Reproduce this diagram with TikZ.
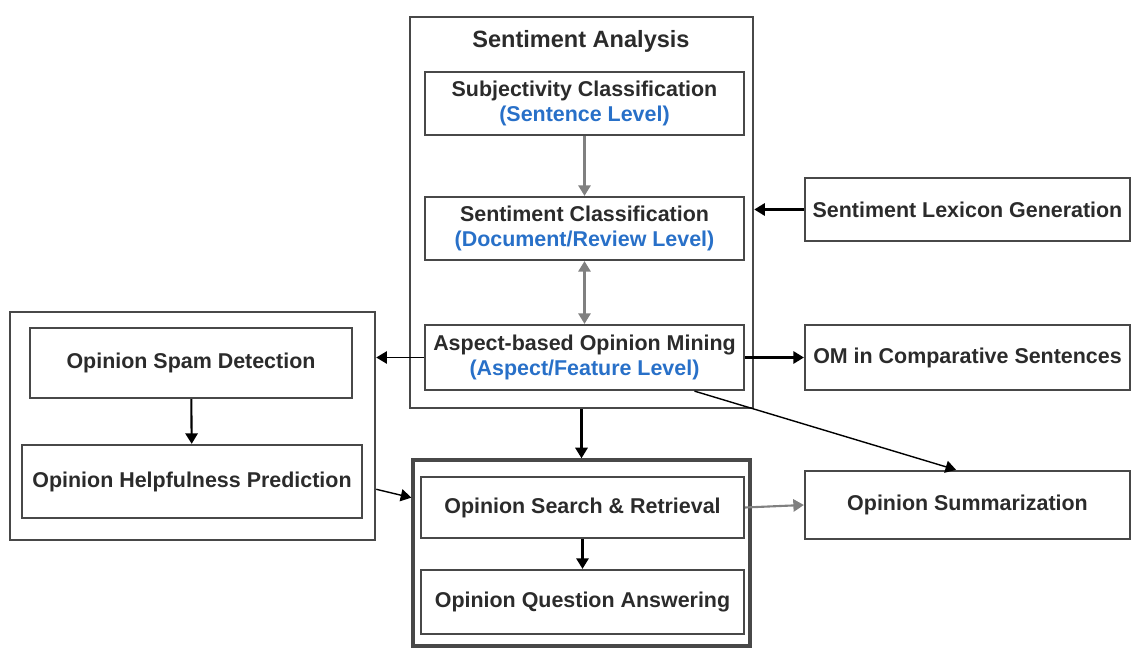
\documentclass[tikz,border=0pt]{standalone}
\usepackage{fontspec}
\setmainfont{Liberation Sans}
\usepackage{xcolor}
\usetikzlibrary{arrows.meta}

\definecolor{boxline}{RGB}{72,72,72}
\definecolor{levelblue}{RGB}{40,112,200}

\tikzset{
  taskbox/.style={draw=boxline, line width=1.3pt, align=center, inner sep=0pt,
    font=\fontsize{12.2}{14.6}\selectfont\bfseries\color{boxline!60!black}},
  groupbox/.style={draw=boxline, line width=1.5pt, inner sep=0pt},
  flow/.style={line width=1.2pt, -{Triangle[length=6pt, width=7pt]}},
}
\newcommand{\lvl}[1]{{\color{levelblue}#1}}

\begin{document}
\begin{tikzpicture}[x=0.02cm, y=-0.02cm]
  \useasboundingbox (0,0) rectangle (1136,651);

  % sentiment analysis group
  \node[groupbox, minimum width=6.86cm, minimum height=7.82cm] (sa) at (581.5,212.5) {};
  \node[font=\fontsize{13.4}{16}\selectfont\bfseries\color{boxline!60!black}] (satitle) at (581,41) {Sentiment Analysis};
  \node[taskbox, minimum width=6.38cm, minimum height=1.26cm] (subj) at (584.5,103.5)
    {Subjectivity Classification\\\lvl{(Sentence Level)}};
  \node[taskbox, minimum width=6.38cm, minimum height=1.26cm] (sentcls) at (584.5,228.5)
    {Sentiment Classification\\\lvl{(Document/Review Level)}};
  \node[taskbox, minimum width=6.38cm, minimum height=1.30cm] (aspect) at (584.5,357.5)
    {Aspect-based Opinion Mining\\\lvl{(Aspect/Feature Level)}};

  % right column
  \node[taskbox, minimum width=6.50cm, minimum height=1.26cm] (lexicon) at (967.5,209.5) {Sentiment Lexicon Generation};
  \node[taskbox, minimum width=6.50cm, minimum height=1.30cm] (compar) at (967.5,357.5) {OM in Comparative Sentences};
  \node[taskbox, minimum width=6.50cm, minimum height=1.36cm] (summ) at (967.5,505) {Opinion Summarization};

  % left group
  \node[groupbox, minimum width=7.30cm, minimum height=4.56cm] (spamgrp) at (192.5,426) {};
  \node[taskbox, minimum width=6.44cm, minimum height=1.40cm] (spam) at (191,363) {Opinion Spam Detection};
  \node[taskbox, minimum width=6.80cm, minimum height=1.46cm] (helpful) at (192,481.5) {Opinion Helpfulness Prediction};

  % bottom group
  \node[groupbox, line width=2pt, minimum width=6.74cm, minimum height=3.72cm] (searchgrp) at (581.5,553) {};
  \node[taskbox, minimum width=6.46cm, minimum height=1.22cm] (search) at (582.5,507.5) {Opinion Search \& Retrieval};
  \node[taskbox, minimum width=6.46cm, minimum height=1.28cm] (qa) at (582.5,602) {Opinion Question Answering};

  % connectors
  \draw[flow, draw=gray] (subj) -- (sentcls);
  \draw[flow, {Triangle[length=6pt, width=7pt]}-{Triangle[length=6pt, width=7pt]}, draw=gray] (sentcls) -- (aspect);
  \draw[flow] (lexicon.west) -- (lexicon.west -| sa.east);
  \draw[flow] (aspect.east) -- (compar.west);
  \draw[flow, line width=0.8pt] (aspect.west) -- (aspect.west -| spamgrp.east);
  \draw[flow, line width=0.8pt] (aspect.-17) -- (summ.108);
  \draw[flow] (sa.south) -- (searchgrp.north);
  \draw[flow, line width=0.8pt] (spamgrp.-19) -- (searchgrp.162);
  \draw[flow, draw=gray] (search.east) -- (summ.west);
  \draw[flow] (spam) -- (helpful);
  \draw[flow] (search) -- (qa);
\end{tikzpicture}
\end{document}
